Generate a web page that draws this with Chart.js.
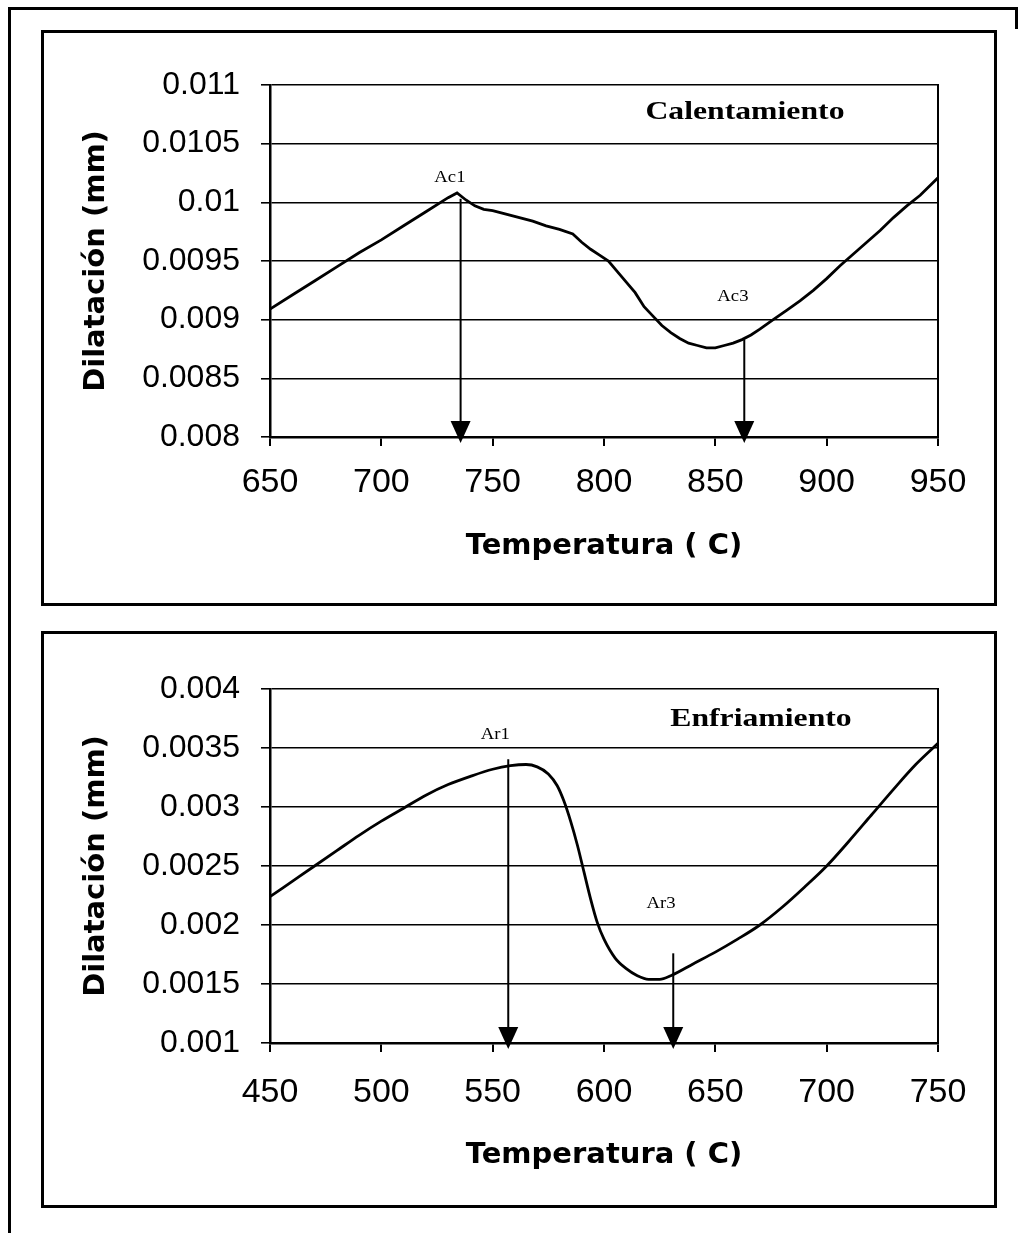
<!DOCTYPE html>
<html>
<head>
<meta charset="utf-8">
<script src="https://cdn.jsdelivr.net/npm/chart.js@4.4.1/dist/chart.umd.min.js"></script>
<style>
html,body{margin:0;padding:0;background:#fff;width:1022px;height:1233px;overflow:hidden;position:relative}
.frame{position:absolute;left:8px;top:7px;width:1007px;height:1240px;border-left:3px solid #000;border-top:3px solid #000;}
.rcap{position:absolute;left:1015px;top:7px;width:3px;height:22px;background:#000}
.box{position:absolute;left:41px;width:950px;border:3px solid #000;background:#fff}
#b1{top:30px;height:570px}
#b2{top:631px;height:571px}
.box canvas{position:absolute;left:0;top:0}
</style>
</head>
<body>
<div class="frame"></div>
<div class="rcap"></div>
<div class="box" id="b1"><canvas id="c1" width="950" height="570"></canvas></div>
<div class="box" id="b2"><canvas id="c2" width="950" height="571"></canvas></div>
<script>
// ---------- Calentamiento (heating) ----------
const tempHeat = [650,660,670,680,690,700,710,720,730,734,738,742,746,750,756,762,768,774,780,786,790,794,798,802,806,810,814,818,822,826,830,834,838,842,846,850,854,858,862,866,870,876,882,888,894,900,906,912,918,924,930,936,942,950];
const dilHeat  = [0.00909,0.00921,0.00933,0.00945,0.00957,0.00968,0.00980,0.00992,0.01004,0.01008,0.01002,0.00997,0.00994,0.00993,0.00990,0.00987,0.00984,0.00980,0.00977,0.00973,0.00966,0.00960,0.00955,0.00950,0.00941,0.00932,0.00923,0.00911,0.00903,0.00895,0.00889,0.00884,0.00880,0.00878,0.00876,0.00876,0.00878,0.00880,0.00883,0.00887,0.00892,0.00900,0.00908,0.00916,0.00925,0.00935,0.00946,0.00956,0.00966,0.00976,0.00987,0.00997,0.01006,0.01021];
const xTicksHeat = [650,700,750,800,850,900,950];
const yTickValsHeat = [0.008,0.0085,0.009,0.0095,0.01,0.0105,0.011];
const yTickLabelsHeat = ['0.008','0.0085','0.009','0.0095','0.01','0.0105','0.011'];
const arrowTempHeat = [735.6, 863];
const arrowFromHeat = [0.01003, 0.00883];
const pointLabelsHeat = ['Ac1','Ac3'];
const pointLabelTempHeat = [730.8, 857.9];
const pointLabelValHeat = [0.01021, 0.0092];
const titleHeat = 'Calentamiento';
const titlePosHeat = [863.3, 0.01077];

// ---------- Enfriamiento (cooling) ----------
const tempCool = [450,460,470,480,490,500,510,520,530,540,550,558,565,570,575,579,582,585,588,591,594,597,600,605,610,615,620,625,630,640,650,660,670,680,690,700,710,720,730,740,750];
const dilCool  = [0.00224,0.00237,0.00250,0.00263,0.00276,0.00288,0.00299,0.00310,0.00319,0.00326,0.00332,0.00335,0.00336,0.00334,0.00328,0.00318,0.00305,0.00288,0.00268,0.00245,0.00222,0.00202,0.00188,0.00172,0.00163,0.00157,0.00154,0.00154,0.00157,0.00167,0.00177,0.00188,0.00200,0.00215,0.00232,0.00250,0.00271,0.00293,0.00315,0.00336,0.00354];
const xTicksCool = [450,500,550,600,650,700,750];
const yTickValsCool = [0.001,0.0015,0.002,0.0025,0.003,0.0035,0.004];
const yTickLabelsCool = ['0.001','0.0015','0.002','0.0025','0.003','0.0035','0.004'];
const arrowTempCool = [557, 631.1];
const arrowFromCool = [0.003404, 0.00176];
const pointLabelsCool = ['Ar1','Ar3'];
const pointLabelTempCool = [551.2, 625.6];
const pointLabelValCool = [0.00361, 0.00218];
const titleCool = 'Enfriamiento';
const titlePosCool = [670.5, 0.003746];

const axisTitleX = 'Temperatura ( C)';
const axisTitleY = 'Dilatación (mm)';

function drawText(ctx, txt, px, py, font, sx) {
  ctx.save();
  ctx.translate(px, py);
  ctx.scale(sx, 1);
  ctx.font = font;
  ctx.fillStyle = '#000';
  ctx.textAlign = 'center';
  ctx.textBaseline = 'middle';
  ctx.fillText(txt, 0, 0);
  ctx.restore();
}

const marksPlugin = {
  id: 'marks',
  afterDatasetsDraw(chart, args, o) {
    const ctx = chart.ctx, a = chart.chartArea, xs = chart.scales.x, ys = chart.scales.y;
    ctx.save();
    ctx.strokeStyle = '#000';
    ctx.fillStyle = '#000';
    ctx.lineWidth = 2;
    ctx.beginPath();
    ctx.moveTo(a.right, a.top - 1);
    ctx.lineTo(a.right, a.bottom + 1);
    ctx.stroke();
    o.arrowTemps.forEach((t, i) => {
      const px = xs.getPixelForValue(t);
      const y0 = ys.getPixelForValue(o.arrowFrom[i]);
      const tip = ys.getPixelForValue(ys.min) + 6;
      ctx.lineWidth = 2;
      ctx.beginPath();
      ctx.moveTo(px, y0);
      ctx.lineTo(px, tip - 18);
      ctx.stroke();
      ctx.beginPath();
      ctx.moveTo(px - 10, tip - 22);
      ctx.lineTo(px + 10, tip - 22);
      ctx.lineTo(px, tip);
      ctx.closePath();
      ctx.fill();
    });
    o.labels.forEach((txt, i) => {
      drawText(ctx, txt, xs.getPixelForValue(o.labelTemps[i]), ys.getPixelForValue(o.labelVals[i]),
        '17px "Liberation Serif"', 1.1);
    });
    drawText(ctx, o.title, xs.getPixelForValue(o.titlePos[0]), ys.getPixelForValue(o.titlePos[1]),
      'bold 26px "Liberation Serif"', 1.22);
    ctx.restore();
  }
};

function makeChart(id, cfg) {
  return new Chart(document.getElementById(id), {
    type: 'line',
    data: {
      datasets: [{
        data: cfg.temps.map((t, i) => ({x: t, y: cfg.vals[i]})),
        borderColor: '#000',
        borderWidth: 2.8,
        pointRadius: 0,
        fill: false,
        tension: cfg.tension,
        cubicInterpolationMode: cfg.tension ? 'monotone' : 'default'
      }]
    },
    options: {
      responsive: false,
      animation: false,
      events: [],
      layout: {padding: {left: 0, top: cfg.padTop, right: 56, bottom: 0}},
      plugins: {
        legend: {display: false},
        tooltip: {enabled: false},
        marks: {
          arrowTemps: cfg.arrowTemps, arrowFrom: cfg.arrowFrom,
          labels: cfg.labels, labelTemps: cfg.labelTemps, labelVals: cfg.labelVals,
          title: cfg.title, titlePos: cfg.titlePos
        }
      },
      scales: {
        x: {
          type: 'linear',
          position: 'bottom',
          min: cfg.xTicks[0],
          max: cfg.xTicks[cfg.xTicks.length - 1],
          afterBuildTicks: s => { s.ticks = cfg.xTicks.map(v => ({value: v})); },
          ticks: {
            callback: v => String(v),
            color: '#000',
            font: {family: '"Liberation Sans", Arial, sans-serif', size: 34},
            padding: cfg.xTickPad,
            maxRotation: 0,
            autoSkip: false
          },
          grid: {drawOnChartArea: false, drawTicks: true, tickLength: 9, color: '#000', lineWidth: 2},
          border: {display: true, color: '#000', width: 2.5},
          title: {
            display: true, text: axisTitleX, color: '#000',
            font: {family: '"DejaVu Sans", sans-serif', weight: 'bold', size: 29},
            padding: {top: cfg.xTitlePad, bottom: cfg.xTitlePad}
          },
          afterFit: s => { s.height = cfg.xHeight; }
        },
        y: {
          type: 'linear',
          min: cfg.yVals[0],
          max: cfg.yVals[cfg.yVals.length - 1],
          afterBuildTicks: s => { s.ticks = cfg.yVals.map(v => ({value: v})); },
          ticks: {
            callback: (v, i) => cfg.yLabels[i],
            color: '#000',
            font: {family: '"Liberation Sans", Arial, sans-serif', size: 32},
            padding: 21,
            autoSkip: false
          },
          grid: {color: '#000', lineWidth: 1.6, drawTicks: true, tickLength: 9},
          border: {display: true, color: '#000', width: 2.5},
          title: {
            display: true, text: axisTitleY, color: '#000',
            font: {family: '"DejaVu Sans", sans-serif', weight: 'bold', size: 29},
            padding: {top: 35, bottom: 35}
          },
          afterFit: s => { s.width = 226; }
        }
      }
    },
    plugins: [marksPlugin]
  });
}

makeChart('c1', {
  temps: tempHeat, vals: dilHeat, tension: 0,
  xTicks: xTicksHeat, yVals: yTickValsHeat, yLabels: yTickLabelsHeat,
  arrowTemps: arrowTempHeat, arrowFrom: arrowFromHeat,
  labels: pointLabelsHeat, labelTemps: pointLabelTempHeat, labelVals: pointLabelValHeat,
  title: titleHeat, titlePos: titlePosHeat,
  padTop: 52, xHeight: 166, xTickPad: 16, xTitlePad: 39
});

makeChart('c2', {
  temps: tempCool, vals: dilCool, tension: 0.3,
  xTicks: xTicksCool, yVals: yTickValsCool, yLabels: yTickLabelsCool,
  arrowTemps: arrowTempCool, arrowFrom: arrowFromCool,
  labels: pointLabelsCool, labelTemps: pointLabelTempCool, labelVals: pointLabelValCool,
  title: titleCool, titlePos: titlePosCool,
  padTop: 55, xHeight: 162, xTickPad: 20, xTitlePad: 32
});
</script>
</body>
</html>
